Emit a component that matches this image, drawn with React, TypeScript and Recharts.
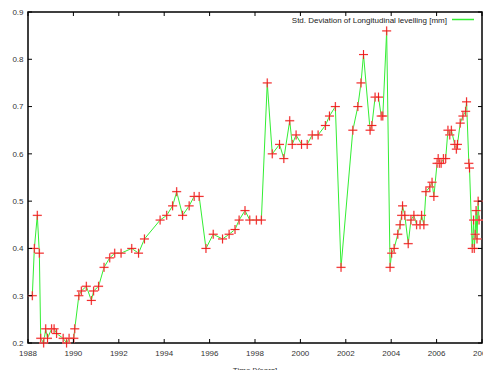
import React from 'react';
import { LineChart, Line, XAxis, YAxis, usePlotArea } from 'recharts';

// time in decimal years and the std. deviation at each measurement
const years = [
  1988.19, 1988.28, 1988.41, 1988.5, 1988.56, 1988.69, 1988.78, 1988.86, 1989.04, 1989.15,
  1989.26, 1989.55, 1989.7, 1989.81, 1990.02, 1990.06, 1990.24, 1990.35, 1990.57, 1990.79,
  1990.89, 1991.11, 1991.35, 1991.6, 1991.82, 1992.1, 1992.57, 1992.87, 1993.13, 1993.82,
  1994.11, 1994.37, 1994.55, 1994.81, 1995.1, 1995.32, 1995.54, 1995.84, 1996.16, 1996.57,
  1996.86, 1997.12, 1997.3, 1997.56, 1997.77, 1998.06, 1998.28, 1998.54, 1998.76, 1999.08,
  1999.27, 1999.53, 1999.64, 1999.81, 2000.05, 2000.3, 2000.52, 2000.78, 2001.1, 2001.28,
  2001.54, 2001.79, 2002.31, 2002.53, 2002.67, 2002.78, 2003.07, 2003.15, 2003.29, 2003.44,
  2003.56, 2003.63, 2003.8, 2003.95, 2004.02, 2004.13, 2004.29, 2004.39, 2004.46, 2004.5,
  2004.6, 2004.75, 2004.87, 2005.0, 2005.12, 2005.27, 2005.34, 2005.44, 2005.53, 2005.7,
  2005.8, 2005.88, 2006.02, 2006.07, 2006.12, 2006.2, 2006.3, 2006.4, 2006.5, 2006.58,
  2006.65, 2006.8, 2006.87, 2006.92, 2007.04, 2007.16, 2007.28, 2007.32, 2007.42, 2007.45,
  2007.57, 2007.63, 2007.66, 2007.7, 2007.74, 2007.78, 2007.83, 2007.87,
];

const stdDev = [
  0.3, 0.4, 0.47, 0.39, 0.21, 0.2, 0.23, 0.21, 0.23, 0.23,
  0.22, 0.21, 0.2, 0.21, 0.21, 0.23, 0.3, 0.31, 0.32, 0.29,
  0.31, 0.32, 0.36, 0.38, 0.39, 0.39, 0.4, 0.39, 0.42, 0.46,
  0.47, 0.49, 0.52, 0.47, 0.49, 0.51, 0.51, 0.4, 0.43, 0.42,
  0.43, 0.44, 0.46, 0.48, 0.46, 0.46, 0.46, 0.75, 0.6, 0.62,
  0.59, 0.67, 0.62, 0.64, 0.62, 0.62, 0.64, 0.64, 0.66, 0.68,
  0.7, 0.36, 0.65, 0.7, 0.75, 0.81, 0.65, 0.66, 0.72, 0.72,
  0.68, 0.68, 0.86, 0.36, 0.39, 0.4, 0.43, 0.45, 0.47, 0.49,
  0.47, 0.41, 0.46, 0.47, 0.45, 0.45, 0.47, 0.45, 0.52, 0.53,
  0.54, 0.51, 0.58, 0.59, 0.58, 0.58, 0.59, 0.59, 0.65, 0.64,
  0.65, 0.62, 0.61, 0.62, 0.665, 0.68, 0.69, 0.71, 0.58, 0.57,
  0.4, 0.46, 0.4, 0.43, 0.48, 0.42, 0.5, 0.46,
];

const xTicks = [1988, 1990, 1992, 1994, 1996, 1998, 2000, 2002, 2004, 2006, 2008];
const yTicks = [0.2, 0.3, 0.4, 0.5, 0.6, 0.7, 0.8, 0.9];
const seriesName = 'Std. Deviation of Longitudinal levelling [mm]';

const data = years.map((t, i) => ({ t, v: stdDev[i] }));

const font = 'Liberation Sans, Arial, Helvetica, sans-serif';
const frameColor = 'black';
const lineColor = '#33ee33';
const TICK = 4;

// x tick: label below, inward marks on bottom and top edges
const XTick = (props: any) => {
  const { x, y, payload } = props;
  const p = usePlotArea();
  return (
    <g>
      {p && (
        <>
          <line x1={x} x2={x} y1={p.y + p.height} y2={p.y + p.height - TICK} stroke={frameColor} strokeWidth={1} />
          <line x1={x} x2={x} y1={p.y} y2={p.y + TICK} stroke={frameColor} strokeWidth={1} />
        </>
      )}
      <text x={x} y={y} dy="0.71em" textAnchor="middle" fontSize={8} fill="#333" fontFamily={font}>
        {payload.value}
      </text>
    </g>
  );
};

// y tick: label left, inward marks on left and right edges
const YTick = (props: any) => {
  const { x, y, payload } = props;
  const p = usePlotArea();
  return (
    <g>
      {p && (
        <>
          <line x1={p.x} x2={p.x + TICK} y1={y} y2={y} stroke={frameColor} strokeWidth={1} />
          <line x1={p.x + p.width} x2={p.x + p.width - TICK} y1={y} y2={y} stroke={frameColor} strokeWidth={1} />
        </>
      )}
      <text x={x} y={y} dy="0.355em" textAnchor="end" fontSize={8} fill="#333" fontFamily={font}>
        {Number(payload.value).toFixed(1)}
      </text>
    </g>
  );
};

// border box plus the key in the top right corner
const Frame = () => {
  const p = usePlotArea();
  if (!p) return null;
  const right = p.x + p.width;
  return (
    <g>
      <rect x={p.x} y={p.y} width={p.width} height={p.height} fill="none" stroke={frameColor} strokeWidth={1.5} />
      <text x={right - 35} y={p.y + 10.5} textAnchor="end" fontSize={8} fill="#222" fontFamily={font}>
        {seriesName}
      </text>
      <line x1={right - 30} x2={right - 8} y1={p.y + 7.5} y2={p.y + 7.5} stroke={lineColor} strokeWidth={1.5} />
    </g>
  );
};

// gnuplot style "+" point
const Plus = (props: any) => {
  const { cx, cy, index } = props;
  if (cx == null || cy == null) return null;
  const d = `M${cx - 4.5},${cy}h9M${cx},${cy - 4.5}v9`;
  return (
    <g key={index}>
      <path d={d} stroke="#ffb8b8" strokeWidth={1.8} fill="none" opacity={0.6} />
      <path d={d} stroke="#ee1111" strokeWidth={0.9} fill="none" />
    </g>
  );
};

export default function App() {
  return (
    <div style={{ position: 'absolute', left: 0, top: 0, background: '#fff' }}>
      <LineChart width={483} height={370} data={data} margin={{ top: 12, right: 1, bottom: 0, left: 0 }}>
        <XAxis
          dataKey="t"
          type="number"
          domain={[1988, 2008]}
          ticks={xTicks}
          interval={0}
          height={27}
          axisLine={false}
          tickLine={false}
          tickSize={0}
          tickMargin={7}
          tick={<XTick />}
          label={{ value: 'Time [Years]', position: 'insideBottom', offset: -3, style: { fontSize: 8, fill: '#333', fontFamily: font } }}
        />
        <YAxis
          type="number"
          domain={[0.2, 0.9]}
          ticks={yTicks}
          interval={0}
          width={28}
          axisLine={false}
          tickLine={false}
          tickSize={0}
          tickMargin={4.5}
          tick={<YTick />}
        />
        <Frame />
        <Line
          dataKey="v"
          stroke="none"
          dot={Plus}
          activeDot={false}
          legendType="none"
          isAnimationActive={false}
        />
        <Line
          dataKey="v"
          name={seriesName}
          stroke={lineColor}
          strokeWidth={1}
          dot={false}
          activeDot={false}
          isAnimationActive={false}
        />
      </LineChart>
    </div>
  );
}
